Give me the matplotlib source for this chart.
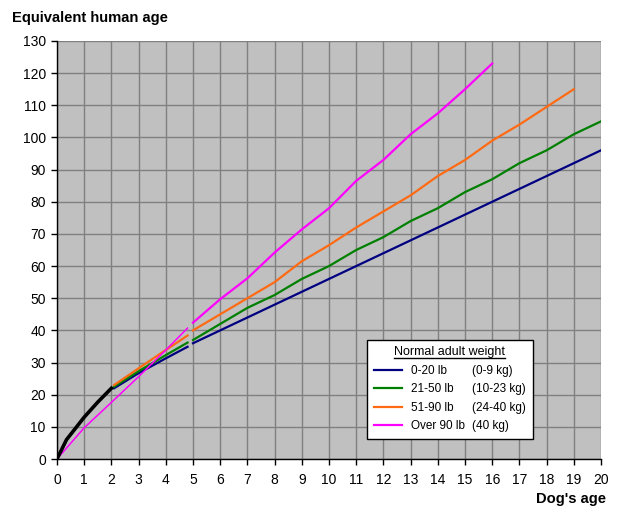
import matplotlib.pyplot as plt
from matplotlib.lines import Line2D

plt.rcParams['font.family'] = ['Liberation Sans', 'DejaVu Sans']

# puppy years (all sizes)
puppy_age = [0, 0.35, 1, 1.5, 2]
puppy_human = [0, 6, 13, 17.7, 22]

# 2 to ~5 years
young_age = [2.1, 3, 4, 4.8]
young_small = [22, 26.7, 31.3, 34.9]
young_medium = [22.5, 27.3, 32.3, 36.2]
young_large = [23, 28.2, 33.9, 38.4]
giant_early_age = [0, 1, 2, 3, 4, 4.8]
giant_early = [0, 9.7, 17.6, 25.6, 33.9, 40.7]

# 5 years on
adult_age = list(range(5, 21))
small = [36, 40, 44, 48, 52, 56, 60, 64, 68, 72, 76, 80, 84, 88, 92, 96]
medium = [37, 42, 47, 51, 56, 60, 65, 69, 74, 78, 83, 87, 92, 96, 101, 105]
large = [40, 45, 50, 55, 61.5, 66.5, 72, 77, 82, 88, 93, 99, 104, 109.5, 115]
giant = [42.4, 49.7, 56.2, 64.2, 71.4, 78, 86.5, 93, 101, 107.5, 115, 123]

weights_lb = ['0-20 lb', '21-50 lb', '51-90 lb', 'Over 90 lb']
weights_kg = ['(0-9 kg)', '(10-23 kg)', '(24-40 kg)', '(40 kg)']
colors = ['#000080', '#008000', '#FF6A13', '#FF00FF']

fig = plt.figure(figsize=(6.2, 5.2), dpi=100)
ax = fig.add_axes([0.0919, 0.1173, 0.8775, 0.8039])
ax.set_facecolor('#C0C0C0')

ax.plot(puppy_age, puppy_human, color='black', lw=2.6, zorder=4)
for vals, c in zip([young_small, young_medium, young_large], colors[:3]):
    ax.plot(young_age, vals, color=c, lw=1.6, zorder=3)
ax.plot(giant_early_age, giant_early, color=colors[3], lw=1.1, zorder=3)

series = [small, medium, large, giant]
for vals, c in zip(series, colors):
    ax.plot(adult_age[:len(vals)], vals, color=c, lw=1.6, zorder=3)

ax.set_xlim(0, 20)
ax.set_ylim(0, 130)
ax.set_xticks(range(0, 21))
ax.set_yticks(range(0, 131, 10))
ax.grid(True, color='#808080', lw=1, zorder=1)
ax.set_axisbelow(True)
for s in ['top', 'right']:
    ax.spines[s].set_visible(False)
for s in ['left', 'bottom']:
    ax.spines[s].set_color('black')
    ax.spines[s].set_linewidth(1)
ax.tick_params(direction='out', length=4, width=1, labelsize=10)
ax.tick_params(axis='x', pad=6)
ax.tick_params(axis='y', pad=4)

fig.text(0.019, 0.966, 'Equivalent human age', fontsize=10.6, fontweight='bold',
         ha='left', va='center')
fig.text(0.977, 0.04, "Dog's age", fontsize=10.6, fontweight='bold',
         ha='right', va='center')

handles = [Line2D([], [], color=c, lw=1.6) for c in colors]
blank = [Line2D([], [], color='none') for _ in colors]
leg = ax.legend(handles + blank, weights_lb + weights_kg, ncol=2,
                title='Normal adult weight', title_fontsize=9, fontsize=8.5,
                loc='upper left', bbox_to_anchor=(0.57, 0.285),
                borderaxespad=0, frameon=True, fancybox=False, framealpha=1,
                edgecolor='black', facecolor='white',
                handlelength=2.4, handletextpad=0.8, columnspacing=-2.6,
                labelspacing=0.55, borderpad=0.55)
leg.get_frame().set_linewidth(1)
leg.set_zorder(5)

# underline the legend title
fig.canvas.draw()
bb = leg.get_title().get_window_extent().transformed(fig.transFigure.inverted())
fig.add_artist(Line2D([bb.x0, bb.x1], [bb.y0 + 0.001, bb.y0 + 0.001],
                      color='black', lw=1, transform=fig.transFigure, zorder=6))

fig.savefig('out.png', dpi=100)
